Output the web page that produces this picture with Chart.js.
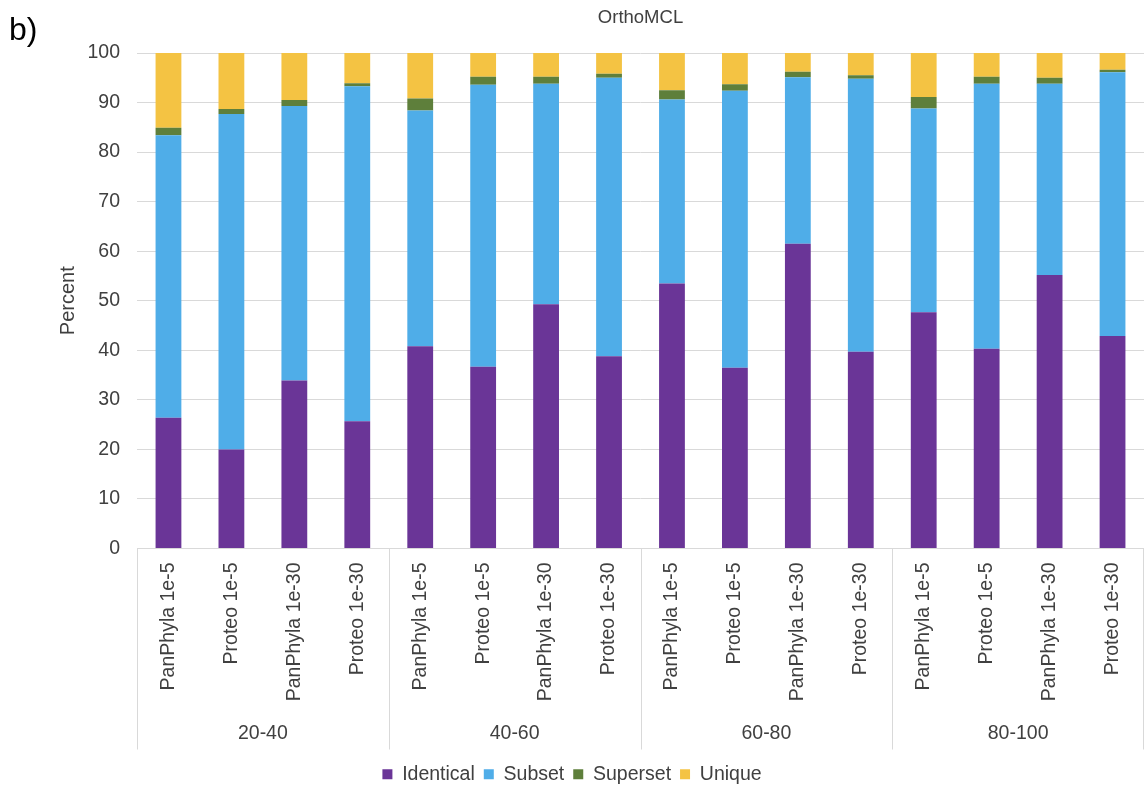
<!DOCTYPE html>
<html>
<head>
<meta charset="utf-8">
<script src="https://cdn.jsdelivr.net/npm/chart.js@4"></script>
<style>
  html, body { margin: 0; padding: 0; background: #fff; }
  #wrap { width: 1144px; height: 794px; position: relative; }
</style>
</head>
<body>
<div id="wrap"><canvas id="chart_ortho"></canvas></div>
<script>
const groups = ['20-40', '40-60', '60-80', '80-100'];
const methods = ['PanPhyla 1e-5', 'Proteo 1e-5', 'PanPhyla 1e-30', 'Proteo 1e-30'];
const labels = groups.flatMap(() => methods);

// percent per bar, left to right
const identical = [26.4, 20.0, 33.9, 25.7, 40.8, 36.7, 49.3, 38.8, 53.5, 36.5, 61.5, 39.7, 47.7, 40.3, 55.2, 42.9];
const subset    = [57.0, 67.7, 55.4, 67.6, 47.6, 56.9, 44.5, 56.2, 37.1, 55.9, 33.6, 55.1, 41.1, 53.5, 38.6, 53.2];
const superset  = [1.5, 1.0, 1.2, 0.6, 2.4, 1.6, 1.4, 0.8, 1.9, 1.3, 1.1, 0.7, 2.3, 1.4, 1.2, 0.5];
const unique    = [15.1, 11.3, 9.5, 6.1, 9.2, 4.8, 4.8, 4.2, 7.5, 6.3, 3.8, 4.5, 8.9, 4.8, 5.0, 3.4];

const yTicks = [0, 10, 20, 30, 40, 50, 60, 70, 80, 90, 100];

const textColor = '#404040';
const lineColor = '#d9d9d9';
const fontFam = '"Liberation Sans", Arial, sans-serif';

const extras = {
  id: 'extras',
  afterDraw(chart) {
    const ctx = chart.ctx;
    const x = chart.scales.x;
    const x2 = chart.scales.x2;
    const area = chart.chartArea;
    const half = (x.getPixelForValue(1) - x.getPixelForValue(0)) / 2;
    ctx.save();
    // group dividers
    ctx.strokeStyle = lineColor;
    ctx.lineWidth = 1;
    for (let g = 0; g <= groups.length; g++) {
      let px = g < groups.length
        ? x.getPixelForValue(g * methods.length) - half
        : x.getPixelForValue(labels.length - 1) + half - 1;
      px = Math.round(px) + 0.5;
      ctx.beginPath();
      ctx.moveTo(px, x.top);
      ctx.lineTo(px, x2.bottom - 6);
      ctx.stroke();
    }
    // title over the plot
    ctx.fillStyle = textColor;
    ctx.font = '18.5px ' + fontFam;
    ctx.textAlign = 'center';
    ctx.textBaseline = 'middle';
    ctx.fillText('OrthoMCL', (area.left + area.right) / 2, 18);
    // panel letter
    ctx.fillStyle = '#000';
    ctx.font = '32px ' + fontFam;
    ctx.textAlign = 'left';
    ctx.textBaseline = 'alphabetic';
    ctx.fillText('b)', 9, 40);
    ctx.restore();
  }
};

const noSidePad = (scale) => { scale.paddingLeft = 0; scale.paddingRight = 0; };

new Chart(document.getElementById('chart_ortho'), {
  type: 'bar',
  data: {
    labels: labels,
    datasets: [
      { label: 'Identical', data: identical, backgroundColor: '#6A3597' },
      { label: 'Subset', data: subset, backgroundColor: '#4FADE8' },
      { label: 'Superset', data: superset, backgroundColor: '#5E7F3B' },
      { label: 'Unique', data: unique, backgroundColor: '#F4C343' }
    ]
  },
  options: {
    responsive: true,
    maintainAspectRatio: false,
    animation: false,
    barPercentage: 0.41,
    categoryPercentage: 1,
    layout: { padding: { top: 53, right: 0, left: 0, bottom: 0 } },
    plugins: {
      legend: {
        position: 'bottom',
        labels: {
          boxWidth: 10, boxHeight: 10, padding: 9,
          color: textColor,
          font: { size: 19.5, family: fontFam }
        }
      },
      tooltip: { enabled: false }
    },
    scales: {
      x: {
        stacked: true,
        grid: { display: true, drawOnChartArea: false, drawTicks: false },
        border: { display: true, color: lineColor },
        ticks: {
          minRotation: 90, maxRotation: 90, padding: 14,
          color: textColor, font: { size: 19.5, family: fontFam }
        },
        afterFit(scale) { scale.height = 163; noSidePad(scale); }
      },
      x2: {
        type: 'category',
        labels: groups,
        position: 'bottom',
        offset: true,
        grid: { display: false, drawTicks: false },
        border: { display: false },
        ticks: { padding: 10, color: textColor, font: { size: 19.5, family: fontFam } },
        afterFit(scale) { scale.height = 44; noSidePad(scale); }
      },
      y: {
        stacked: true,
        min: 0, max: 100,
        afterBuildTicks(scale) { scale.ticks = yTicks.map(v => ({ value: v })); },
        grid: { color: lineColor, drawTicks: false },
        border: { display: false },
        ticks: { padding: 17, color: textColor, font: { size: 19.5, family: fontFam } },
        title: {
          display: true, text: 'Percent', color: textColor,
          font: { size: 20, family: fontFam },
          padding: { top: 56, bottom: 0 }
        },
        afterFit(scale) { scale.width = 137; }
      }
    }
  },
  plugins: [extras]
});
</script>
</body>
</html>
